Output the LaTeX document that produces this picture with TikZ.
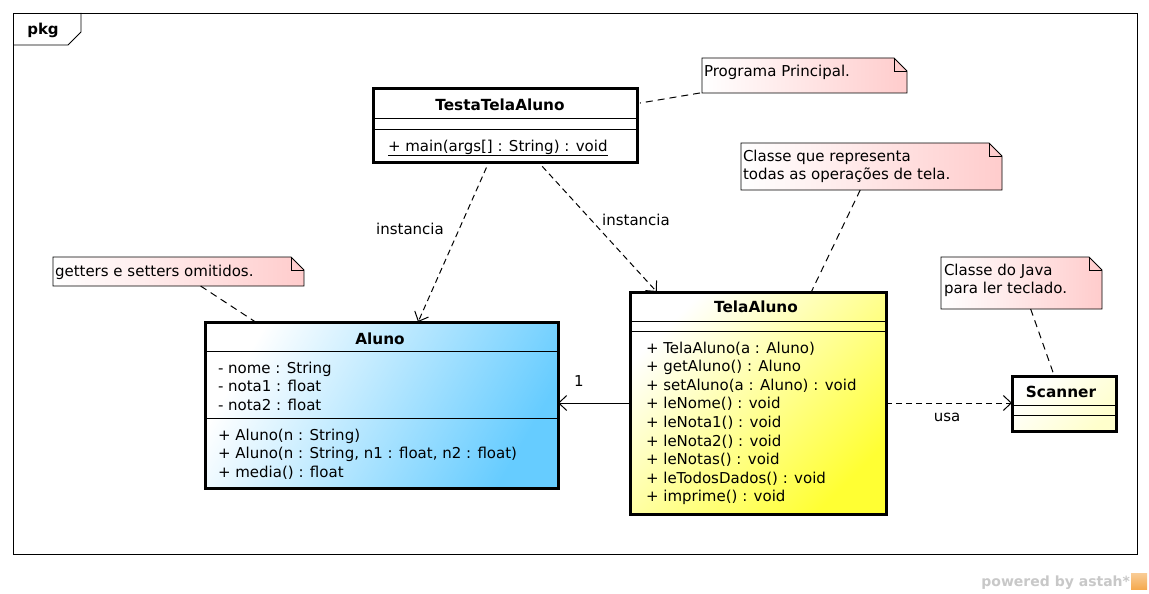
\documentclass[tikz,border=0pt]{standalone}
\usepackage{fontspec}
\setmainfont{DejaVu Sans}
\usetikzlibrary{arrows.meta}
\definecolor{notepink}{RGB}{255,204,204}
\definecolor{alunoblue}{RGB}{102,204,255}
\definecolor{telayellow}{RGB}{255,255,51}
\definecolor{scanyellow}{RGB}{255,255,204}
\definecolor{astahgray}{RGB}{200,200,200}
\definecolor{astahorange}{RGB}{245,170,80}
\begin{document}
\begin{tikzpicture}[x=1pt,y=-1pt,
  every node/.style={inner sep=0pt, outer sep=0pt},
  txt/.style={anchor=base west, font=\fontsize{15}{18}\selectfont},
  lbl/.style={anchor=base, font=\fontsize{15}{18}\selectfont},
  ttl/.style={anchor=base, font=\fontsize{15.3}{18}\selectfont\bfseries},
  classbox/.style={draw, line width=3pt, rectangle},
  sepline/.style={line width=1pt},
  notearea/.style={rectangle},
  notefill/.style={draw, line width=0.8pt, left color=white, right color=notepink},
  notelink/.style={dashed, dash pattern=on 7pt off 5pt, line width=1pt},
  dep/.style={dash pattern=on 6pt off 4pt, line width=1pt,
    -{Straight Barb[length=8pt,width=15pt,line width=1pt]}, shorten <=6pt},
  assoc/.style={line width=1pt, -{Straight Barb[length=8pt,width=15pt,line width=1pt]}}
]
\useasboundingbox (0,0) rectangle (1149,594);
\fill[white] (0,0) rectangle (1149,594);

% package frame and its tab
\node[rectangle, draw, line width=0.8pt, minimum width=1124, minimum height=541] (frame) at (575,283.5) {};
\draw[line width=0.8pt] ([yshift=-32pt]frame.north west) -- ([xshift=55pt,yshift=-32pt]frame.north west)
  -- ([xshift=68pt,yshift=-19pt]frame.north west) -- ([xshift=68pt]frame.north west);
\node[anchor=base, font=\fontsize{15}{18}\selectfont\bfseries] (pkg) at (43,35) {pkg};

% classes
\node[classbox, fill=white, minimum width=264, minimum height=73] (testa) at (505,125.5) {};
\draw[sepline] ([yshift=-29pt]testa.north west) -- ([yshift=-29pt]testa.north east);
\draw[sepline] ([yshift=-40pt]testa.north west) -- ([yshift=-40pt]testa.north east);
\node[ttl] (testaname) at (500,110.7) {TestaTelaAluno};
\node[txt] (testamain) at (388,151) {\underline{+ main(args[] : String) : void}};

\node[classbox, top color=white, bottom color=alunoblue, shading angle=60,
  minimum width=353, minimum height=166] (aluno) at (381.5,405) {};
\draw[sepline] ([yshift=-29pt]aluno.north west) -- ([yshift=-29pt]aluno.north east);
\draw[sepline] ([yshift=-96pt]aluno.north west) -- ([yshift=-96pt]aluno.north east);
\node[ttl] (alunoname) at (380,344.3) {Aluno};
\foreach \t [count=\i] in {{- nome : String},{- nota1 : float},{- nota2 : float}}
  \node[txt] (alunoattr\i) at (218,354.8+18.5*\i) {\t};
\foreach \t [count=\i] in {{+ Aluno(n : String)},{+ Aluno(n : String, n1 : float, n2 : float)},{+ media() : float}}
  \node[txt] (alunoop\i) at (218,421.5+18.5*\i) {\t};

\node[classbox, top color=white, bottom color=telayellow, shading angle=45,
  minimum width=256, minimum height=222] (tela) at (758,403) {};
\draw[sepline] ([yshift=-29pt]tela.north west) -- ([yshift=-29pt]tela.north east);
\draw[sepline] ([yshift=-39pt]tela.north west) -- ([yshift=-39pt]tela.north east);
\node[ttl] (telaname) at (756,312.3) {TelaAluno};
\foreach \t [count=\i] in {{+ TelaAluno(a : Aluno)},{+ getAluno() : Aluno},{+ setAluno(a : Aluno) : void},
  {+ leNome() : void},{+ leNota1() : void},{+ leNota2() : void},{+ leNotas() : void},
  {+ leTodosDados() : void},{+ imprime() : void}}
  \node[txt] (telaop\i) at (646,334.75+18.55*\i) {\t};

\node[classbox, top color=white, bottom color=scanyellow, shading angle=45,
  minimum width=104, minimum height=55] (scanner) at (1064,403.5) {};
\draw[sepline] ([yshift=-29pt]scanner.north west) -- ([yshift=-29pt]scanner.north east);
\draw[sepline] ([yshift=-39pt]scanner.north west) -- ([yshift=-39pt]scanner.north east);
\node[ttl] (scannername) at (1061,397.7) {Scanner};

% notes with folded corner
\node[notearea, minimum width=205, minimum height=35] (noteprog) at (804.5,75.5) {};
\node[notearea, minimum width=261, minimum height=47] (notetela) at (871.5,166.5) {};
\node[notearea, minimum width=251, minimum height=29] (notegs) at (178.5,271.5) {};
\node[notearea, minimum width=161, minimum height=52] (notejava) at (1021.5,283) {};
\foreach \n in {noteprog,notetela,notegs,notejava}{
  \path[notefill] (\n.north west) -- ([xshift=-13pt]\n.north east) -- ([yshift=-13pt]\n.north east)
    -- (\n.south east) -- (\n.south west) -- cycle;
  \draw[line width=0.8pt] ([xshift=-13pt]\n.north east) -- ([xshift=-13pt,yshift=-13pt]\n.north east)
    -- ([yshift=-13pt]\n.north east);
}
\node[txt] (noteprogtxt) at (704,76.7) {Programa Principal.};
\node[txt] (notetelatxta) at (743,161) {Classe que representa};
\node[txt] (notetelatxtb) at (743,179) {todas as operações de tela.};
\node[txt] (notegstxt) at (55,276) {getters e setters omitidos.};
\node[txt] (notejavatxta) at (944,275) {Classe do Java};
\node[txt] (notejavatxtb) at (944,293.3) {para ler teclado.};

% note anchors
\draw[notelink, shorten <=2pt, shorten >=3pt] (noteprog) -- (testa);
\draw[notelink] (notetela) -- (tela);
\draw[notelink] (notegs) -- (aluno);
\draw[notelink] (notejava) -- (scanner);

% relationships
\draw[dep] (testa) -- (aluno);
\draw[dep] (testa) -- (tela);
\draw[assoc] (tela.west) -- (tela.west -| aluno.east);
\draw[dep, shorten <=0pt] (tela.east) -- (tela.east -| scanner.west);
\node[lbl] (lblinst1) at (410,234) {instancia};
\node[lbl] (lblinst2) at (636,225) {instancia};
\node[lbl] (lblmult) at (579,386.5) {1};
\node[lbl] (lblusa) at (947,421) {usa};

% footer
\node[anchor=base east, text=astahgray, font=\fontsize{14}{16}\selectfont\bfseries] (powered) at (1130,586) {powered by astah*};
\node[rectangle, minimum width=16, minimum height=16, top color=astahorange!60, bottom color=astahorange] (logo) at (1139,581) {};
\end{tikzpicture}
\end{document}
